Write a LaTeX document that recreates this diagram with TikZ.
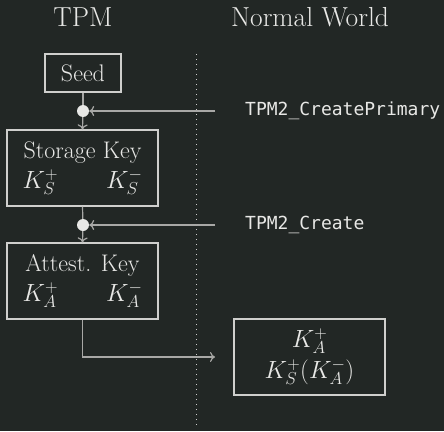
\documentclass[tikz,border=0pt]{standalone}
\usepackage{fontspec}
\setmonofont{DejaVu Sans Mono}
\usetikzlibrary{arrows.meta}
\definecolor{bgc}{HTML}{222725}
\definecolor{txtc}{HTML}{E8E8E6}
\definecolor{boxc}{HTML}{CFCFCD}
\definecolor{linec}{HTML}{A8A8A6}
\tikzset{
  keybox/.style={draw=boxc, line width=1.2pt, minimum width=151pt, minimum height=76pt, inner sep=0pt, align=center, text=txtc, font=\fontsize{24}{29}\selectfont},
  seedbox/.style={draw=boxc, line width=1.2pt, minimum width=76pt, minimum height=38pt, inner sep=0pt, text=txtc, font=\fontsize{24}{29}\selectfont},
  title/.style={text=txtc, font=\fontsize{27.5}{32}\selectfont, inner sep=0pt},
  cmd/.style={text=txtc, font=\ttfamily\fontsize{18}{22}\selectfont, inner sep=0pt, anchor=west},
  junction/.style={circle, fill=txtc, minimum size=12pt, inner sep=0pt},
  conn/.style={draw=linec, line width=1.2pt},
  arr/.style={conn, -{To[length=5pt,width=10pt]}},
}
\begin{document}
\begin{tikzpicture}[x=1pt,y=-1pt]
\fill[bgc] (0,0) rectangle (444,431);
\useasboundingbox (0,0) rectangle (444,431);
\node[title] (t1) at (83,17) {TPM};
\node[title] (t2) at (310,17) {Normal World};
\draw[boxc, line width=1pt, dash pattern=on 1pt off 4pt] (196,54) -- (196,426);
\node[seedbox] (seed) at (83,73) {Seed};
\node[junction] (d1) at (83,111) {};
\node[cmd] (cp) at (245,111) {TPM2\_CreatePrimary};
\node[keybox] (sk) at (82.5,168) {Storage Key\\[1pt]$K_S^+$\qquad$K_S^-$};
\node[junction] (d2) at (83,225) {};
\node[cmd] (cr) at (245,225) {TPM2\_Create};
\node[keybox] (ak) at (82.5,281) {Attest. Key\\[1pt]$K_A^+$\qquad$K_A^-$};
\node[keybox, font=\fontsize{24}{31}\selectfont] (out) at (309.5,357) {$K_A^+$\\$K_S^+(K_A^-)$};
\coordinate (c1) at (215,111);
\coordinate (c2) at (215,225);
\coordinate (c3) at (215,357);
\draw[conn] (seed.south) -- (d1);
\draw[arr] (d1) -- (sk.north);
\draw[arr] (c1) -- (d1);
\draw[conn] (sk.south) -- (d2);
\draw[arr] (d2) -- (ak.north);
\draw[arr] (c2) -- (d2);
\draw[arr] (ak.south) |- (c3);
\end{tikzpicture}
\end{document}
